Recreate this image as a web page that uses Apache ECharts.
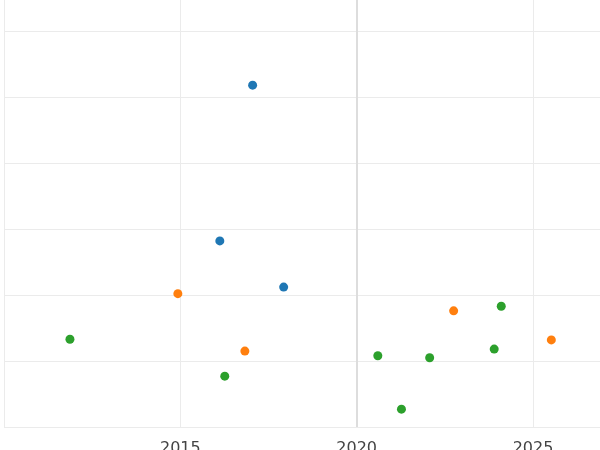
<!DOCTYPE html><html><head><script src="https://cdn.jsdelivr.net/npm/echarts@6/dist/echarts.min.js"></script></head><body style="margin:0"><div id="c" style="width:600px;height:450px"></div><script>
const blueX=[2017.05,2016.12,2017.93], blueY=[5.18,2.82,2.12];
const orangeX=[2014.93,2016.83,2022.75,2025.52], orangeY=[2.02,1.15,1.76,1.32];
const greenX=[2011.87,2016.26,2020.6,2021.27,2022.07,2023.9,2024.1], greenY=[1.33,0.77,1.08,0.27,1.05,1.18,1.83];
const xTicks=[2010,2015,2020,2025];
const z=(a,b)=>a.map((v,i)=>[v,b[i]]);
const mk=(d,c,extra)=>Object.assign({type:'scatter',data:d,symbolSize:9,itemStyle:{color:c,opacity:1}},extra||{});
echarts.init(document.getElementById('c')).setOption({
animation:false,
grid:{left:4,right:0,top:0,bottom:23,containLabel:false,outerBoundsMode:'none'},
xAxis:{type:'value',min:2010,max:2026.9,interval:5,axisLine:{show:false},axisTick:{show:false},
 axisLabel:{color:'#444',fontSize:16,fontFamily:'DejaVu Sans',margin:6,formatter:v=>xTicks.includes(v)&&v>2010?String(v):''},
 splitLine:{showMaxLine:false,lineStyle:{color:'#ebebeb'}}},
yAxis:{type:'value',min:0,max:6.47,interval:1,axisLine:{show:false},axisTick:{show:false},axisLabel:{show:false},splitLine:{showMaxLine:false,lineStyle:{color:'#ebebeb'}}},
series:[mk(z(blueX,blueY),'#1f77b4',{markLine:{silent:true,symbol:'none',label:{show:false},lineStyle:{color:'#dddddd',width:2,type:'solid'},data:[{xAxis:2020}]}}),
mk(z(orangeX,orangeY),'#ff7f0e'),mk(z(greenX,greenY),'#2ca02c')]
});
</script></body></html>
